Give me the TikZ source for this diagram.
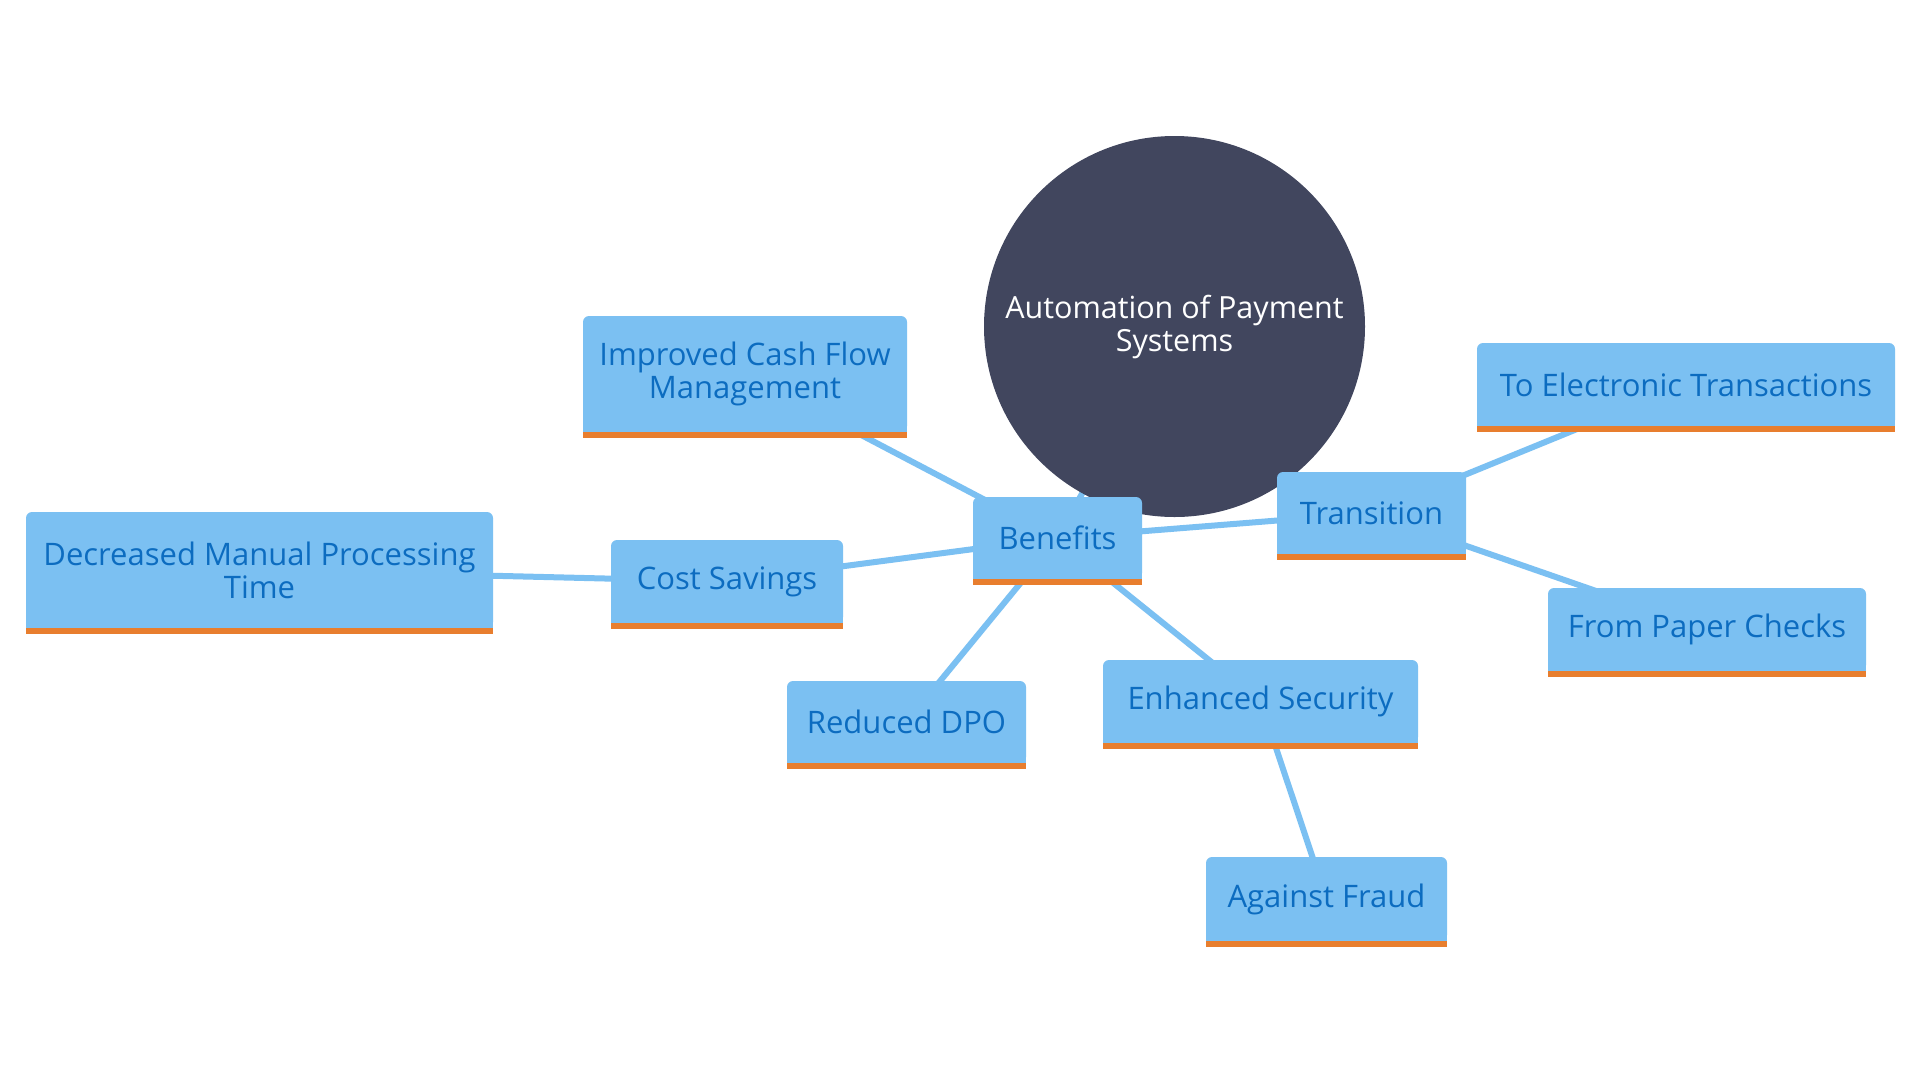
\documentclass[tikz,border=0pt]{standalone}
\usepackage{fontspec}
\setmainfont{Open Sans}
\definecolor{boxblue}{RGB}{123,192,242}
\definecolor{textblue}{RGB}{12,108,192}
\definecolor{barorange}{RGB}{232,126,46}
\definecolor{hubgray}{RGB}{65,70,94}
\pgfdeclarelayer{edges}
\pgfsetlayers{edges,main}
\begin{document}
\begin{tikzpicture}[x=1pt,y=-1pt,
  leaf/.style={fill=boxblue, rounded corners=6pt, inner sep=0pt, text=textblue,
    align=center, font=\fontsize{31}{33}\selectfont},
  link/.style={draw=boxblue, line width=6pt},
  hub/.style={circle, fill=hubgray, minimum size=381pt, inner sep=0pt, text=white,
    align=center, font=\fontsize{30.5}{33}\selectfont}]
\useasboundingbox (0,0) rectangle (1920,1080);

\node[hub] (hub) at (1174.5,326.5) {Automation of Payment\\Systems};

\node[leaf, minimum width=324pt, minimum height=116pt] (improved) at (745,374) {Improved Cash Flow\\Management};
\node[leaf, minimum width=467pt, minimum height=116pt] (decreased) at (259.5,570) {Decreased Manual Processing\\Time};
\node[leaf, minimum width=232pt, minimum height=83pt] (cost) at (727,581.5) {Cost Savings};
\node[leaf, minimum width=169pt, minimum height=82pt] (benefits) at (1057.5,538) {Benefits};
\node[leaf, minimum width=239pt, minimum height=82pt] (dpo) at (906.5,722) {Reduced DPO};
\node[leaf, minimum width=315pt, minimum height=83pt] (security) at (1260.5,701.5) {Enhanced Security};
\node[leaf, minimum width=241pt, minimum height=84pt] (fraud) at (1326.5,899) {Against Fraud};
\node[leaf, minimum width=189pt, minimum height=82pt] (transition) at (1371.5,513) {Transition};
\node[leaf, minimum width=418pt, minimum height=83pt] (electronic) at (1686,384.5) {To Electronic Transactions};
\node[leaf, minimum width=318pt, minimum height=83pt] (paper) at (1707,629.5) {From Paper Checks};

\foreach \n in {improved,decreased,cost,benefits,dpo,security,fraud,transition,electronic,paper}{
  \fill[boxblue] ([yshift=8pt]\n.south west) rectangle (\n.south east);
  \fill[barorange] (\n.south west) rectangle ([yshift=-6pt]\n.south east);
}

\begin{pgfonlayer}{edges}
\fill[white] (0,0) rectangle (1920,1080);
\draw[link] (hub.center) -- (benefits.center);
\draw[link] (hub.center) -- ([xshift=14pt,yshift=-10pt]transition.north west);
\draw[link] (benefits.center) -- (improved.center);
\draw[link] (benefits.center) -- (cost.center);
\draw[link] (cost.center) -- (decreased.center);
\draw[link] (benefits.center) -- (dpo.center);
\draw[link] (benefits.center) -- (security.center);
\draw[link] (security.center) -- (fraud.center);
\draw[link] (benefits.center) -- (transition.center);
\draw[link] (transition.center) -- (electronic.center);
\draw[link] (transition.center) -- (paper.center);
\end{pgfonlayer}
\end{tikzpicture}
\end{document}
